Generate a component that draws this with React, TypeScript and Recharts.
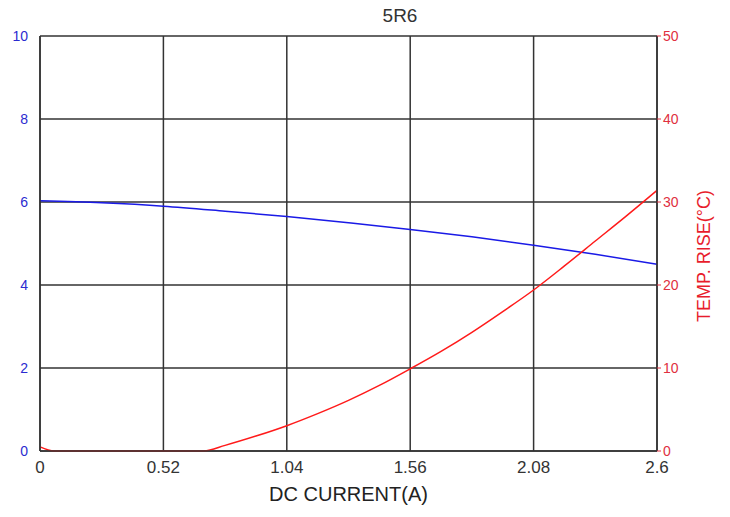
import React from "react";
import {
  LineChart,
  Line,
  XAxis,
  YAxis,
  CartesianGrid,
  Label,
} from "recharts";

const currentTicks = [0, 0.52, 1.04, 1.56, 2.08, 2.6];
const inductanceTicks = [0, 2, 4, 6, 8, 10];
const tempTicks = [0, 10, 20, 30, 40, 50];

const inductCurrent = [0, 0.26, 0.52, 0.78, 1.04, 1.3, 1.56, 1.82, 2.08, 2.34, 2.6];
const inductValues = [6.03, 5.98, 5.9, 5.78, 5.65, 5.5, 5.34, 5.16, 4.96, 4.74, 4.5];

const tempCurrent = [0, 0.06, 0.13, 0.26, 0.39, 0.52, 0.69, 0.78, 0.91, 1.04, 1.17, 1.3, 1.43, 1.56, 1.69, 1.82, 1.95, 2.08, 2.21, 2.34, 2.47, 2.6];
const tempValues = [0.5, 0, 0, 0, 0, 0, 0, 0.68, 1.8, 3.05, 4.5, 6.1, 7.9, 9.9, 12.0, 14.3, 16.8, 19.4, 22.3, 25.3, 28.3, 31.4];

const inductData = inductCurrent.map((x, i) => ({ x, l: inductValues[i] }));
const tempData = tempCurrent.map((x, i) => ({ x, t: tempValues[i] }));

const font = "'Liberation Sans', Arial, sans-serif";

// rotated right-hand axis title, sits a bit below the plot centre like the original
const TempLabel = () => (
  <text
    x={704}
    y={256}
    transform="rotate(-90 704 256)"
    textAnchor="middle"
    dominantBaseline="central"
    fill="#e81c2c"
    fontSize={18}
    fontFamily={font}
  >
    TEMP. RISE(°C)
  </text>
);

export default function App() {
  return (
    <div style={{ position: "absolute", left: 0, top: 0, width: 730, height: 517, fontFamily: font }}>
      <div
        style={{
          position: "absolute",
          left: 400,
          top: 5,
          transform: "translateX(-50%)",
          fontSize: 19,
          color: "#333",
        }}
      >
        5R6
      </div>
      <LineChart
        width={730}
        height={517}
        margin={{ top: 36, right: 33, bottom: 16, left: 10 }}
      >
        <CartesianGrid
          stroke="#333"
          strokeWidth={1.5}
          horizontalValues={inductanceTicks}
          verticalValues={currentTicks}
          yAxisId="l"
        />
        <XAxis
          dataKey="x"
          type="number"
          domain={[0, 2.6]}
          ticks={currentTicks}
          allowDuplicatedCategory={false}
          height={50}
          axisLine={{ stroke: "#333", strokeWidth: 1.5 }}
          tickLine={false}
          tick={{ fill: "#333", fontSize: 17, fontFamily: font }}
          tickMargin={4}
        >
          <Label
            value="DC CURRENT(A)"
            position="insideBottom"
            offset={0}
            style={{ fill: "#222", fontSize: 20, fontFamily: font }}
          />
        </XAxis>
        <YAxis
          yAxisId="l"
          domain={[0, 10]}
          ticks={inductanceTicks}
          width={30}
          axisLine={{ stroke: "#333", strokeWidth: 1.5 }}
          tickLine={false}
          tick={{ fill: "#2b2bd0", fontSize: 14, fontFamily: font }}
          tickMargin={6}
        />
        <YAxis
          yAxisId="r"
          orientation="right"
          domain={[0, 50]}
          ticks={tempTicks}
          width={40}
          axisLine={{ stroke: "#333", strokeWidth: 1.5 }}
          tickLine={{ stroke: "#e03040" }}
          tickSize={4}
          tick={{ fill: "#e03040", fontSize: 14, fontFamily: font }}
          tickMargin={2}
        >
          <Label content={<TempLabel />} />
        </YAxis>
        <Line
          yAxisId="l"
          data={inductData}
          dataKey="l"
          type="monotone"
          stroke="#1a1ae6"
          strokeWidth={1.5}
          dot={false}
          isAnimationActive={false}
        />
        <Line
          yAxisId="r"
          data={tempData}
          dataKey="t"
          type="monotone"
          stroke="#ff1a1a"
          strokeWidth={1.5}
          dot={false}
          isAnimationActive={false}
        />
      </LineChart>
    </div>
  );
}
